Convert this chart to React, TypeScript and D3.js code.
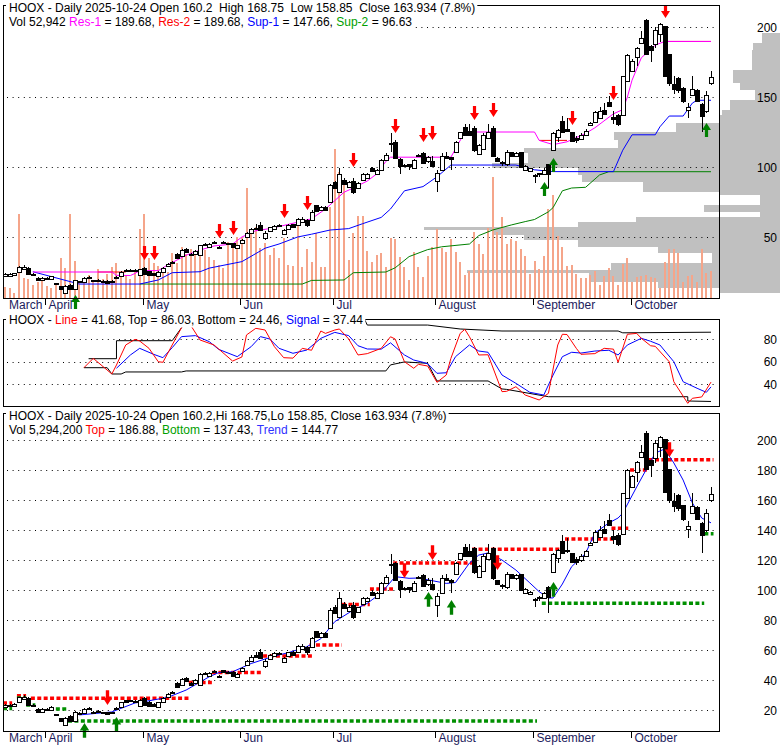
import React, { useLayoutEffect, useRef, useState } from 'react';
import * as d3 from 'd3';

// ---------- data (trading days 2025-03-19 .. 2025-10-24) ----------
const OPEN = [22,22.5,23,25,27.5,28,23.5,21,19,20.8,20,17,14.7,10,16,13,18,18,21.3,19,19.5,18.7,18.5,18.5,21,22,26.5,26.5,26,23,28,25.5,24,22,25,29,32,38,36.7,41.3,38,38,37,44.5,43,45.5,43,46.5,45.5,45.5,42,46,50,53,56.5,58.6,49.5,54,56,58,52,56,59,58.7,61,62,62,72.7,69,71.5,74.7,89,82,90.7,86,90,85.3,90.7,92.5,99,94.7,98,104.7,116.7,118,106,101.5,102,99.3,108,110,104,104,90,98,108,107,110.7,121,128.7,126,128,109,113,120.7,128,106.7,103.5,102,110.7,108,110.7,98,97.3,94,95.5,95,102,112,121.3,132.7,127,124.7,121,120,123,130,132,135.3,141,146.7,136,137,137.3,161.3,168.7,178.7,188.7,204.7,186.7,188,195.3,200.7,180.7,159.3,163.3,156.7,140.7,151.3,155.3,144.7,140,160.2];
const HIGH = [24,24,24.5,29,30,28.5,24,21.5,21.5,21.5,22.5,17.5,15,15.5,16.5,19.5,18.5,21.5,22,19.5,20,19,19,19,22,25.5,27,27,26.8,27.5,28.5,26,24.5,25.5,28.5,31.5,33,38.5,41.5,42,38.5,40.5,44.5,45.5,45.5,47,43.5,47,46,46,44.5,48.5,53.5,56.5,59,61,54,57.5,58.5,59,55.5,59,59.5,63.5,64,63,69,73,72,72,88,90,99,92,90,92,89,95.5,95.5,100,98.5,105.5,110,124,119,106.5,102,102.3,106,109.5,110.5,108,108,98,110,111,107.5,118.5,125,131,131,129,116.7,124,130.7,129,107,104,112,111,110.5,111,101.5,99.5,95,96,99,102.5,125,127.5,136.7,135,125,122,124,127,132,140,143,146,151,140,138,165,181,177,186,197,206,187,200,203,201,181,165,164,157,146,165,156,145.5,154,168.75];
const LOW = [21.5,22,22.5,24.5,27,23,22.5,18.5,18.5,20.5,19.5,16,12.5,9.5,12.5,12.5,17.5,17.5,21,18.5,18,18.3,16.8,18,20.5,21.5,25,25.3,25.5,22.8,23,22.5,22.5,21.5,24.8,28.5,31.5,34.5,36,39,36.5,37.5,36.5,44,42.5,45,41.5,45,44.5,42.5,41.5,45.5,49.5,52.5,55,54.5,48,53.5,55.5,57.5,51.5,55.5,56.5,58.5,60.5,57,61.5,68,68.5,68.5,74,84,81.5,87.5,85.5,81,85,90,92,96.5,94,97.5,104,111,106,95,100,98,99,107.5,102.5,103,100.5,82,97.5,106,98,110,120.5,122.5,122,111,108.5,112,120,107,103.5,101,101,107.5,107,99.5,97.5,97,88.7,93,94.5,84.7,111.5,118,124,125,118,117,119,122.5,129.5,131.5,135,137.5,143,130.5,129.5,137,161,168,172,188,180,175.3,185,189,165,158,152,153,146,135,151,146.5,124.7,138.5,158.85];
const CLOSE = [23.5,23.5,24,28.5,28.7,23.3,23,19,21,21,22,16.5,12.7,15,13,19,18.3,21,21.5,18.7,18.5,18.5,17,18.8,21.5,25,25.5,25.8,26.3,27,23.5,23,23,25,28,31,32.3,35,40.7,39.3,37,40,44,44.8,45,46.3,42,45.5,44.8,43,44,48,53,55.5,55.5,55,53,57,58,58.3,55,58.7,57,62.7,63,58.7,68,68.7,71.5,69,87,84.7,95,88,89,82,88.7,94.7,94.7,97,98,104.7,108.7,117.5,106.7,100.7,101,100.7,105,108.5,103,107,101,96,108,106.5,105.5,118,124.7,123,122.7,112,116,123,124.7,108,104,103,111,108,110,100,101,99,94.3,95,98,95.3,124,126.7,124.7,126,118.7,119,123,126,131.5,139,140,138,143.3,134,131,164.7,180,176,185.3,192,180.7,183.3,198,202,165.3,160,156,154.7,147.3,142.7,156,147.3,136.7,151.3,163.934];
// volume, millions of shares
const VOLUME = [2.2,2,1,16.8,4,3.8,2.6,3.2,3.6,2.4,2,2.6,8,6,16.8,7.4,3,3.8,4.6,3.6,5.8,3.8,4.8,6.2,7,5,4.4,3.8,5.2,13.8,16.8,8,7,6.4,5.4,5.2,9,7,10.2,8.8,9.8,9.2,10.2,9.6,8.2,7.6,6.6,6,11.2,10.2,12.2,12.2,22,13.2,14.2,10,11,8.6,10,8,12,6.6,6.4,15.2,6.2,9.8,7.2,13,6.2,6.2,18.2,29.8,25.2,23.6,7.6,13,16.4,16.4,9.4,7.2,8.6,9,6.2,12,11.8,8.2,6.2,3.6,9.2,6.2,4.2,8.4,10.2,13.8,10,9.2,11.8,9.2,7.2,4.6,5.4,13.2,10.8,8.8,14,24.2,13.2,16.2,10.8,11.8,11.4,9.8,8.4,4.8,7.4,5.8,8.4,17.8,20.6,12.4,10.2,6.4,6.6,4.8,4,4,4.6,5.4,2.6,4.4,6,4.4,2.6,6.8,8,3.2,4.2,4.4,4.6,4.2,4,2,7.2,9.8,9.8,9,3.2,4.4,4.6,3.2,9.8,5,5.4];

const MONTH_LABELS = ['March', 'April', 'May', 'Jun', 'Jul', 'August', 'September', 'October'];
const MONTH_START = [0, 9, 30, 51, 71, 93, 114, 135];

const PRICE_TICKS_TOP = [50, 100, 150, 200];
const OSC_TICKS = [40, 60, 80];
const PRICE_TICKS_BOTTOM = [20, 40, 60, 80, 100, 120, 140, 160, 180, 200];

// top panel overlay lines: [day index, value]
const RES1 = [[6,25],[23,25],[24,22.6],[27,22.5],[28,24],[29,26],[33,26],[35,30],[39,37],[42,40.7],[45,43.6],[49,45],[51,50],[54,54.5],[57,56],[61,59],[66,63],[69,70],[71,76],[73,82],[75,85],[78,90],[80,95],[82,104],[83,107],[96,107],[99,125],[114,125],[115,119],[118,116],[121,118],[125,124],[127,128],[131,138],[133,141],[134,150],[135,162],[137,178],[138,181],[140,187],[142,189.68],[152,189.68]];
const RES2_SEGMENTS = [[20,26,25],[115,121,119],[142,152,189.68]];
const SUP1 = [[6,25.2],[16,16.4],[29,16.4],[33,19.3],[36,24.5],[42,25.2],[44,27.8],[51,32.4],[56,42],[59,45],[63,50],[66,52],[70,55],[74,56],[77,59.5],[81,64],[83,70],[86,83],[90,86],[93,93],[96,101.4],[110,101.4],[114,98],[118,96.7],[131,96.7],[133,112],[135,123],[140,123],[141,128.7],[143,136.4],[146,136.4],[148,145.7],[149,147.66],[152,147.66]];
const SUP2 = [[29,16.4],[64,16.4],[66,19],[73,19.3],[75,24.5],[82,25],[84,28],[87,36],[91,41],[94,43],[100,45],[102,51],[105,55],[109,58.6],[112,61],[114,62.5],[117,68],[118,71],[120,83],[122,85],[125,85.5],[128,94.3],[130,96.63],[152,96.63]];
const TOP_SELL = [[30,33.6],[32,33.6],[46,49.3],[49,51.4],[60,63.6],[65,69.3],[75,100],[84,124.3],[90,117.9],[92,119.3],[101,133.6],[105,135.7],[122,130],[131,147.9],[142,206.4]];
const TOP_BUY = [[15,8.6],[116,89.3],[118,106.4],[151,131.4]];
// volume-at-price profile: [low price, high price, volume units]
const PROFILE = [[188.6,196,5],[183.6,188.6,7.5],[169.3,183.6,7.8],[160,169.3,13],[155,160,11],[148,155,7],[140.7,148,14],[137,140.7,16],[131.4,137,17],[125,131.4,29],[119.3,125,46],[113.6,119.3,45],[110,113.6,71],[102.9,110,70],[99.3,102.9,80],[94.3,99.3,56],[89.3,94.3,55],[82.1,89.3,38],[80,82.1,17],[72.9,80,5.5],[67.9,72.9,21],[64.3,67.9,5.5],[60.7,64.3,40],[57.1,60.7,56],[55,57.1,99],[51.4,55,80],[47.9,51.4,71],[42.9,47.9,56],[38.6,42.9,34],[31.4,38.6,19],[26.4,31.4,47],[24.3,26.4,87],[17.9,24.3,53],[13.6,17.9,34],[10,13.6,17]];

// oscillator panel
const OSC_LINE = [[17,54.5],[19,62.8],[23,48.9],[24,56.9],[26,74.7],[28,79.7],[29,78.2],[31,71.7],[33,59.8],[34,59.3],[36,74.7],[38,90],[39,99],[40,92],[42,79.1],[45,74.7],[49,60.4],[51,64],[52,83.6],[54,89.5],[56,88],[58,73.2],[60,63.4],[62,63],[64,71.7],[66,70],[68,87.1],[69,85],[71,88],[72,88.9],[74,80],[76,65.8],[78,67],[81,71.7],[83,82],[84,80],[86,59.8],[88,54],[89,57.5],[91,56],[93,41.5],[95,48],[96,62.8],[98,85],[99,88.6],[100,82],[102,65.8],[104,66],[107,33.2],[108,33.5],[110,37.6],[112,30.2],[115,25.8],[117,31.7],[119,74.7],[120,84.2],[121,84],[123,71.7],[124,66.4],[127,67],[129,71.7],[131,71],[132,59.3],[134,84.2],[136,85],[137,80.6],[139,74],[140,73.5],[143,59.8],[144,42],[147,22.8],[148,27.3],[150,28.5],[152,41.68]];
const OSC_SIGNAL = [[24,54],[27,65.8],[29,71.7],[32,66.4],[34,63.4],[36,72.3],[38,82.1],[41,83],[44,77.6],[46,70.8],[50,64.3],[53,73.2],[55,82.1],[57,80],[59,71.7],[62,67.3],[65,70.2],[68,80.6],[71,85.9],[74,83],[76,74],[78,71.1],[81,71],[83,76.6],[86,65.8],[88,61.3],[90,59.3],[91,58],[93,49.5],[95,50],[97,64.3],[100,74.7],[102,69.3],[104,68.2],[107,48],[110,40.6],[113,32.6],[116,30.2],[118,48],[120,64.3],[122,68.2],[124,67.5],[127,69.3],[130,70],[132,65.8],[134,74.7],[137,80.6],[139,78],[141,74.7],[144,59.8],[146,42],[149,36.2],[151,32.6],[152,37.44]];
const OSC_TOP = [[18,62.5],[24,62.5],[24,78.5],[36,78.5],[38,90],[40,101],[77,101],[78,92.4],[91,92.4],[98,88.9],[107,87.1],[132,87.1],[133,85.5],[152,86.03]];
const OSC_BOTTOM = [[17,54.5],[22,54.5],[23,48.9],[25,48.9],[26,50.7],[38,50.7],[39,51.6],[82,51.6],[83,57],[86,59.6],[91,58.4],[93,42.7],[104,42.7],[107,35.6],[108,35.2],[117,28.7],[147,28.7],[147,24.9],[152,24.46]];

// bottom panel
const TREND = [[16,16.7],[23,18.7],[28,24.7],[30,25.6],[35,28.4],[39,33.3],[44,42.2],[46,44.9],[49,45.5],[53,51],[58,56],[61,58.2],[65,62.2],[68,67.5],[71,78.9],[75,86.7],[78,91.1],[81,98],[84,108.9],[87,107.8],[89,108],[92,106.2],[95,104.4],[97,105],[100,118],[102,123.3],[104,124.7],[107,120],[110,113.3],[113,104.7],[115,98.9],[117,94.7],[118,94.7],[120,104],[122,115.6],[125,124.4],[127,138],[130,144.7],[132,148],[133,151.3],[136,168.7],[138,180],[140,191.3],[142,194],[144,184.7],[146,173.3],[148,158],[150,148],[152,144.77]];
const TOP_SEGMENTS = [[0,1,24.7],[3,4,29.5],[6,39,27.8],[40,44,38.4],[45,55,45],[56,66,56],[66,72,63.3],[73,78,90.4],[79,83,100.7],[84,100,118],[101,119,127.2],[121,131,134],[131,134,141.1],[135,138,180],[139,152,186.88]];
const BOTTOM_SEGMENTS = [[0,1,21],[3,4,28],[5,6,23.3],[10,13,20.7],[14,114,12.7],[116,150,91.1],[151,152,137.43]];
const BOTTOM_SELL = [[22,23.3],[86,108],[92,120],[106,113.3],[143,188.7]];
const BOTTOM_BUY = [[17,11.3],[24,15.3],[91,98.7],[96,93.3],[118,105.3]];

// ---------- layout ----------
const FONT = 'Liberation Sans, Arial, Helvetica, sans-serif';
const LEFT = 3, RIGHT = 719, W = 780;
const P1 = { top: 5, bottom: 298 };
const P2 = { top: 319, bottom: 406 };
const P3 = { top: 413, bottom: 731 };
const RED = '#ff0000', BLUE = '#0000ff', MAGENTA = '#ff00ff', GREEN = '#008000';

const x = d3.scaleLinear().domain([0, 152]).range([5, 711]);
const yTop = d3.scaleLinear().domain([0, 200]).range([307, 27]);
const yVol = d3.scaleLinear().domain([0, 58]).range([298, 8]);
const yOsc = d3.scaleLinear().domain([40, 80]).range([384, 339]);
const yBot = d3.scaleLinear().domain([20, 200]).range([710, 440]);
const profW = d3.scaleLinear().domain([0, 100]).range([0, 360]);

type Part = [string, string?];

function Label({ px, py, parts, textColor = '#000' }: { px: number; py: number; parts: Part[]; textColor?: string }) {
  const ref = useRef<SVGTextElement>(null);
  const [w, setW] = useState(0);
  useLayoutEffect(() => {
    if (ref.current) setW(ref.current.getBBox().width);
  }, []);
  return (
    <g>
      <rect x={px - 3} y={py - 10} width={w + 5} height={13.5} fill="#fff" />
      <text ref={ref} x={px} y={py} fontFamily={FONT} fontSize={12} style={{ whiteSpace: 'pre' }} fill={textColor}>
        {parts.map((p, i) => (
          <tspan key={i} fill={p[1] || textColor}>{p[0]}</tspan>
        ))}
      </text>
    </g>
  );
}

function Arrow({ cx, tip, up, color, scale = 1 }: { cx: number; tip: number; up: boolean; color: string; scale?: number }) {
  const hw = 4.5 * scale, hh = 7 * scale, sw = 1.6 * scale, sh = 7 * scale;
  const d = up ? 1 : -1;
  const path = [
    `M${cx},${tip}`,
    `L${cx + hw},${tip + d * hh}`,
    `L${cx + sw},${tip + d * hh}`,
    `L${cx + sw},${tip + d * (hh + sh)}`,
    `L${cx - sw},${tip + d * (hh + sh)}`,
    `L${cx - sw},${tip + d * hh}`,
    `L${cx - hw},${tip + d * hh}`,
    'Z',
  ].join(' ');
  return <path d={path} fill={color} />;
}

function Candles({ y }: { y: d3.ScaleLinear<number, number> }) {
  return (
    <g>
      {OPEN.map((o, i) => {
        const c = CLOSE[i];
        const cx = Math.round(x(i)) + 0.5;
        const top = Math.round(y(Math.max(o, c))) + 0.5;
        const bot = Math.round(y(Math.min(o, c))) + 0.5;
        const up = c >= o;
        return (
          <g key={i}>
            <line x1={cx} x2={cx} y1={Math.round(y(HIGH[i]))} y2={Math.round(y(LOW[i]))} stroke="#000" strokeWidth={1} />
            <rect x={cx - 2} y={top} width={4} height={Math.max(bot - top, 1)} fill={up ? '#fff' : '#000'} stroke="#000" strokeWidth={1} />
          </g>
        );
      })}
    </g>
  );
}

function Grid({ ticks, y }: { ticks: number[]; y: d3.ScaleLinear<number, number> }) {
  return (
    <g>
      {ticks.map((t) => (
        <line key={t} x1={LEFT + 4} x2={RIGHT - 2} y1={Math.round(y(t)) + 0.5} y2={Math.round(y(t)) + 0.5} stroke="#000" strokeWidth={1} strokeDasharray="1 4.6" />
      ))}
    </g>
  );
}

function AxisLabels({ ticks, y }: { ticks: number[]; y: d3.ScaleLinear<number, number> }) {
  return (
    <g>
      {ticks.map((t) => (
        <text key={t} x={777} y={y(t) + 4.5} textAnchor="end" fontFamily={FONT} fontSize={12} fill="#000">{t}</text>
      ))}
    </g>
  );
}

function Months({ base }: { base: number }) {
  return (
    <g>
      {MONTH_LABELS.map((m, k) => {
        const i = MONTH_START[k];
        const tx = Math.round(x(i) - 1.5) + 0.5;
        return (
          <g key={m}>
            {i > 0 && <line x1={tx} x2={tx} y1={base} y2={base + 7} stroke="#000" strokeWidth={1} />}
            <text x={k === 0 ? 9 : tx + 3} y={base + 11} fontFamily={FONT} fontSize={12} fill="#1c1c5c">{m}</text>
          </g>
        );
      })}
    </g>
  );
}

const mkLine = (y: d3.ScaleLinear<number, number>) =>
  d3.line<number[]>().x((d) => x(d[0])).y((d) => y(d[1]));

export default function App() {
  const lTop = mkLine(yTop);
  const lOsc = mkLine(yOsc);
  const lBot = mkLine(yBot);

  return (
    <svg width={W} height={745} style={{ position: 'absolute', left: 0, top: 0, display: 'block', background: '#fff' }}>
      <defs>
        <clipPath id="c1"><rect x={LEFT} y={P1.top} width={W - LEFT} height={P1.bottom - P1.top} /></clipPath>
        <clipPath id="c1p"><rect x={LEFT} y={P1.top} width={RIGHT - LEFT} height={P1.bottom - P1.top} /></clipPath>
        <clipPath id="c2"><rect x={LEFT} y={P2.top} width={RIGHT - LEFT} height={P2.bottom - P2.top} /></clipPath>
        <clipPath id="c3"><rect x={LEFT} y={P3.top} width={RIGHT - LEFT} height={P3.bottom - P3.top} /></clipPath>
      </defs>
      <rect x={0} y={0} width={W} height={745} fill="#fff" />

      {/* ===== Panel 1: price + volume ===== */}
      <g clipPath="url(#c1)">
        {PROFILE.map((b, k) => (
          <rect key={k} x={Math.round(W - profW(b[2]))} y={Math.round(yTop(b[1]))} width={Math.round(profW(b[2]))} height={Math.round(yTop(b[0])) - Math.round(yTop(b[1]))} fill="#c0c0c0" />
        ))}
      </g>
      <Grid ticks={PRICE_TICKS_TOP} y={yTop} />
      <g clipPath="url(#c1p)">
        {VOLUME.map((v, i) => (
          <rect key={i} x={Math.round(x(i)) - 1} y={Math.round(yVol(v))} width={2} height={P1.bottom - Math.round(yVol(v))} fill="#f5a58a" />
        ))}
        {RES2_SEGMENTS.map((s, k) => (
          <line key={k} x1={x(s[0])} x2={x(s[1])} y1={yTop(s[2])} y2={yTop(s[2])} stroke={RED} strokeWidth={1} />
        ))}
        <path d={lTop(SUP2) || ''} fill="none" stroke={GREEN} strokeWidth={1} />
        <path d={lTop(SUP1) || ''} fill="none" stroke={BLUE} strokeWidth={1} />
        <path d={lTop(RES1) || ''} fill="none" stroke={MAGENTA} strokeWidth={1} />
        <Candles y={yTop} />
        {TOP_SELL.map((a, k) => (
          <Arrow key={k} cx={Math.round(x(a[0])) + 0.5} tip={yTop(a[1])} up={false} color={RED} />
        ))}
      </g>
      {TOP_BUY.map((a, k) => (
        <Arrow key={k} cx={Math.round(x(a[0])) + 0.5} tip={yTop(a[1])} up={true} color={GREEN} />
      ))}
      <rect x={LEFT + 0.5} y={P1.top + 0.5} width={RIGHT - LEFT} height={P1.bottom - P1.top} fill="none" stroke="#000" strokeWidth={1} />
      <AxisLabels ticks={PRICE_TICKS_TOP} y={yTop} />
      <Months base={P1.bottom} />
      <Label px={9} py={12} parts={[['HOOX - Daily 2025-10-24 Open 160.2  High 168.75  Low 158.85  Close 163.934 (7.8%)']]} />
      <Label px={9} py={26} parts={[['Vol 52,942 '], ['Res-1', MAGENTA], [' = 189.68, '], ['Res-2', RED], [' = 189.68, '], ['Sup-1', BLUE], [' = 147.66, '], ['Sup-2', '#00a000'], [' = 96.63']]} />

      {/* ===== Panel 2: oscillator ===== */}
      <Grid ticks={OSC_TICKS} y={yOsc} />
      <g clipPath="url(#c2)">
        <path d={lOsc(OSC_TOP) || ''} fill="none" stroke="#000" strokeWidth={1} />
        <path d={lOsc(OSC_BOTTOM) || ''} fill="none" stroke="#000" strokeWidth={1} />
        <path d={lOsc(OSC_SIGNAL) || ''} fill="none" stroke={BLUE} strokeWidth={1} />
        <path d={lOsc(OSC_LINE) || ''} fill="none" stroke={RED} strokeWidth={1} />
      </g>
      <rect x={LEFT + 0.5} y={P2.top + 0.5} width={RIGHT - LEFT} height={P2.bottom - P2.top} fill="none" stroke="#000" strokeWidth={1} />
      <AxisLabels ticks={OSC_TICKS} y={yOsc} />
      <Label px={9} py={324} parts={[['HOOX - '], ['Line', RED], [' = 41.68, Top = 86.03, Bottom = 24.46, '], ['Signal', BLUE], [' = 37.44']]} />

      {/* ===== Panel 3: price with top / bottom / trend ===== */}
      <Grid ticks={PRICE_TICKS_BOTTOM} y={yBot} />
      <g clipPath="url(#c3)">
        {TOP_SEGMENTS.map((s, k) => (
          <line key={'t' + k} x1={x(s[0]) - 2} x2={x(s[1]) + 2.5} y1={yBot(s[2])} y2={yBot(s[2])} stroke={RED} strokeWidth={3.5} strokeDasharray="4 2.4" />
        ))}
        {BOTTOM_SEGMENTS.map((s, k) => (
          <line key={'b' + k} x1={x(s[0]) - 2} x2={x(s[1]) + 2.5} y1={yBot(s[2])} y2={yBot(s[2])} stroke="#009000" strokeWidth={3.5} strokeDasharray="4 2.4" />
        ))}
        <path d={lBot(TREND) || ''} fill="none" stroke={BLUE} strokeWidth={1} />
        <Candles y={yBot} />
        {BOTTOM_SELL.map((a, k) => (
          <Arrow key={k} cx={Math.round(x(a[0])) + 0.5} tip={yBot(a[1])} up={false} color={RED} scale={1.05} />
        ))}
      </g>
      {BOTTOM_BUY.map((a, k) => (
        <Arrow key={k} cx={Math.round(x(a[0])) + 0.5} tip={yBot(a[1])} up={true} color={GREEN} scale={1.05} />
      ))}
      <rect x={LEFT + 0.5} y={P3.top + 0.5} width={RIGHT - LEFT} height={P3.bottom - P3.top} fill="none" stroke="#000" strokeWidth={1} />
      <AxisLabels ticks={PRICE_TICKS_BOTTOM} y={yBot} />
      <Months base={P3.bottom} />
      <Label px={9} py={420} parts={[['HOOX - Daily 2025-10-24 Open 160.2,Hi 168.75,Lo 158.85, Close 163.934 (7.8%)']]} />
      <Label px={9} py={434} parts={[['Vol 5,294,200 '], ['Top', RED], [' = 186.88, '], ['Bottom', '#00a000'], [' = 137.43, '], ['Trend', '#3030ff'], [' = 144.77']]} />
    </svg>
  );
}
